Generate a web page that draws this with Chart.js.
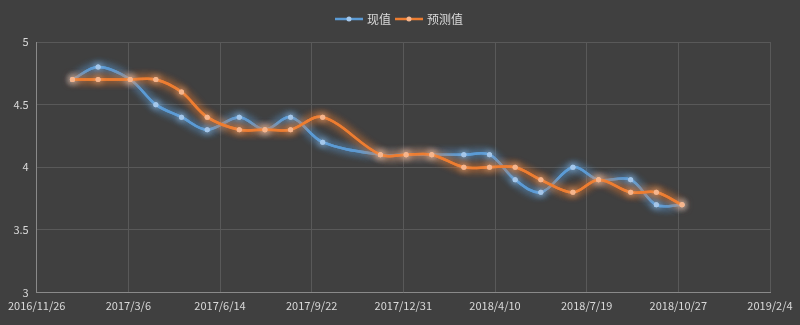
<!DOCTYPE html>
<html>
<head>
<meta charset="utf-8">
<script src="https://cdn.jsdelivr.net/npm/chart.js@4/dist/chart.umd.min.js"></script>
<style>
  html, body { margin: 0; padding: 0; background: #404040; }
  #wrap { width: 800px; height: 325px; }
</style>
</head>
<body>
<div id="wrap"><canvas id="c" width="800" height="325"></canvas></div>
<script>
// Observation dates (first Wednesday of each month, with gaps)
const dates = [
  '2017/1/4', '2017/2/1', '2017/3/8', '2017/4/5', '2017/5/3', '2017/5/31',
  '2017/7/5', '2017/8/2', '2017/8/30', '2017/10/4', '2017/12/6', '2018/1/3',
  '2018/1/31', '2018/3/7', '2018/4/4', '2018/5/2', '2018/5/30', '2018/7/4',
  '2018/8/1', '2018/9/5', '2018/10/3', '2018/10/31'
];
const actualValues = [
  4.7, 4.8, 4.7, 4.5, 4.4, 4.3, 4.4, 4.3, 4.4, 4.2, 4.1,
  4.1, 4.1, 4.1, 4.1, 3.9, 3.8, 4.0, 3.9, 3.9, 3.7, 3.7
];
const forecastValues = [
  4.7, 4.7, 4.7, 4.7, 4.6, 4.4, 4.3, 4.3, 4.3, 4.4, 4.1,
  4.1, 4.1, 4.0, 4.0, 4.0, 3.9, 3.8, 3.9, 3.8, 3.8, 3.7
];
const seriesNames = ['现值', '预测值'];
const xTickDates = [
  '2016/11/26', '2017/3/6', '2017/6/14', '2017/9/22', '2017/12/31',
  '2018/4/10', '2018/7/19', '2018/10/27', '2019/2/4'
];
const yTicks = [3, 3.5, 4, 4.5, 5];

const DAY = 86400000;
function dayNum(s) {
  const [y, m, d] = s.split('/').map(Number);
  return Math.round(Date.UTC(y, m - 1, d) / DAY);
}
function fmtDay(n) {
  const dt = new Date(n * DAY);
  return dt.getUTCFullYear() + '/' + (dt.getUTCMonth() + 1) + '/' + dt.getUTCDate();
}

const FONT = '"Noto Sans CJK SC", "Noto Sans", sans-serif';
const TEXT = '#d9d9d9';
const BLUE = '#5b9bd5';
const ORANGE = '#ed7d31';

// soft glow under each series line and its markers
const glow = {
  id: 'glow',
  beforeDatasetDraw(chart, args) {
    const ds = chart.data.datasets[args.index];
    const ctx = chart.ctx;
    const meta = args.meta;
    // extra blurred pass of the line to thicken the halo
    ctx.save();
    ctx.shadowColor = ds.glowColor;
    ctx.shadowBlur = 9;
    meta.dataset.draw(ctx, chart.chartArea);
    ctx.restore();
    ctx.save();
    ctx.shadowColor = ds.glowColor;
    ctx.shadowBlur = 9;
  },
  afterDatasetDraw(chart, args) {
    const ctx = chart.ctx;
    ctx.restore();
    const ds = chart.data.datasets[args.index];
    ctx.save();
    ctx.shadowColor = ds.pointGlow;
    ctx.shadowBlur = 6;
    args.meta.data.forEach(pt => pt.draw(ctx, chart.chartArea));
    ctx.restore();
  }
};

// legend: line sample with marker, then series name
const lineLegend = {
  id: 'lineLegend',
  afterDraw(chart) {
    const ctx = chart.ctx;
    ctx.save();
    ctx.font = '12px ' + FONT;
    const sample = 28, gap = 4, between = 4;
    const items = chart.data.datasets.map(ds => ({
      ds, w: sample + gap + ctx.measureText(ds.label).width
    }));
    const total = items.reduce((a, it) => a + it.w, 0) + between * (items.length - 1);
    let x = 399 - total / 2;
    const y = 19;
    items.forEach(it => {
      ctx.strokeStyle = it.ds.borderColor;
      ctx.lineWidth = 2.5;
      ctx.beginPath();
      ctx.moveTo(x, y);
      ctx.lineTo(x + sample, y);
      ctx.stroke();
      ctx.fillStyle = it.ds.pointBackgroundColor;
      ctx.beginPath();
      ctx.arc(x + sample / 2, y, 2.5, 0, Math.PI * 2);
      ctx.fill();
      ctx.fillStyle = TEXT;
      ctx.textBaseline = 'middle';
      ctx.textAlign = 'left';
      ctx.fillText(it.ds.label, x + sample + gap, y);
      x += it.w + between;
    });
    ctx.restore();
  }
};

const xs = dates.map(dayNum);
const toPoints = vals => vals.map((v, i) => ({ x: xs[i], y: v }));

new Chart(document.getElementById('c'), {
  type: 'line',
  data: {
    datasets: [
      {
        label: seriesNames[0],
        data: toPoints(actualValues),
        borderColor: BLUE,
        glowColor: 'rgba(91,155,213,1)',
        pointGlow: 'rgba(190,220,250,0.9)',
        pointBackgroundColor: '#a4c8ec',
        pointBorderWidth: 0,
        pointRadius: 2.5,
        borderWidth: 2.5,
        tension: 0.35,
        order: 1
      },
      {
        label: seriesNames[1],
        data: toPoints(forecastValues),
        borderColor: ORANGE,
        glowColor: 'rgba(237,125,49,1)',
        pointGlow: 'rgba(250,205,175,0.9)',
        pointBackgroundColor: '#f6b58c',
        pointBorderWidth: 0,
        pointRadius: 2.5,
        borderWidth: 2.5,
        tension: 0.35,
        order: 0
      }
    ]
  },
  options: {
    responsive: false,
    animation: false,
    layout: { padding: { top: 42, right: 30, bottom: 0, left: 0 } },
    plugins: {
      legend: { display: false },
      tooltip: { enabled: false }
    },
    scales: {
      x: {
        type: 'linear',
        min: dayNum(xTickDates[0]),
        max: dayNum(xTickDates[xTickDates.length - 1]),
        afterBuildTicks(scale) {
          scale.ticks = xTickDates.map(s => ({ value: dayNum(s) }));
        },
        afterFit(scale) { scale.height = 32.5; },
        grid: { color: '#595959', lineWidth: 1, drawTicks: false },
        border: { color: '#8a8a8a', width: 1 },
        ticks: {
          color: TEXT,
          font: { family: FONT, size: 11 },
          padding: 7,
          autoSkip: false,
          maxRotation: 0,
          callback: v => fmtDay(v)
        }
      },
      y: {
        min: yTicks[0],
        max: yTicks[yTicks.length - 1],
        afterBuildTicks(scale) {
          scale.ticks = yTicks.map(v => ({ value: v }));
        },
        afterFit(scale) { scale.width = 36.7; },
        grid: { color: '#595959', lineWidth: 1, drawTicks: false },
        border: { color: '#8a8a8a', width: 1 },
        ticks: {
          color: TEXT,
          font: { family: FONT, size: 11 },
          padding: 8,
          callback: v => String(v)
        }
      }
    }
  },
  plugins: [glow, lineLegend]
});
</script>
</body>
</html>
